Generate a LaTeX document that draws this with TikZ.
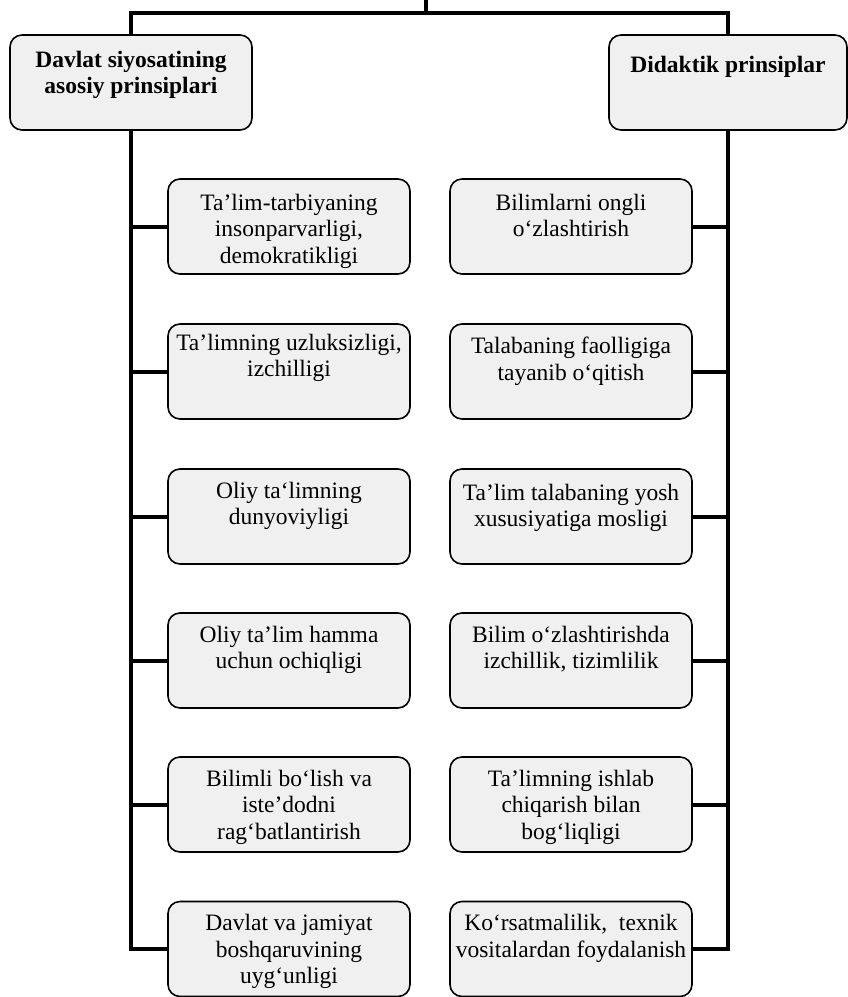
\documentclass[tikz,border=0pt]{standalone}
\usepackage{fontspec}
\setmainfont{Liberation Serif}
\newcommand{\bxt}[2][13pt]{\parbox[c][95pt][t]{238pt}{\centering\vspace*{#1}#2}}
\tikzset{
  conn/.style={line width=4pt},
  box/.style={draw, line width=1.6pt, rounded corners=12pt, fill=black!6,
    inner sep=0pt, minimum width=242pt, minimum height=95pt,
    font=\fontsize{23.5}{26.5}\selectfont},
  headbox/.style={box, font=\fontsize{23.5}{26}\selectfont\bfseries}
}
\begin{document}
\begin{tikzpicture}[x=1pt,y=-1pt]
\useasboundingbox (0,0) rectangle (848,997);
% headers
\node[headbox] (hl) at (131,82.5) {\bxt[16pt]{Davlat siyosatining\\ asosiy prinsiplari}};
\node[headbox, minimum width=238pt] (hr) at (728,82.5) {\bxt[21pt]{Didaktik prinsiplar}};
% left column
\node[box] (l1) at (289,226.5) {\bxt[15pt]{Ta’lim-tarbiyaning\\ insonparvarligi,\\ demokratikligi}};
\node[box] (l2) at (289,371.5) {\bxt[10pt]{Ta’limning uzluksizligi,\\ izchilligi}};
\node[box] (l3) at (289,516.5) {\bxt{Oliy ta‘limning\\ dunyoviyligi}};
\node[box] (l4) at (289,660.5) {\bxt{Oliy ta’lim hamma\\ uchun ochiqligi}};
\node[box] (l5) at (289,804.5) {\bxt{Bilimli bo‘lish va\\ iste’dodni\\ rag‘batlantirish}};
\node[box] (l6) at (289,949) {\bxt{Davlat va jamiyat\\ boshqaruvining\\ uyg‘unligi}};
% right column
\node[box] (r1) at (571,226.5) {\bxt[15pt]{Bilimlarni ongli\\ o‘zlashtirish}};
\node[box] (r2) at (571,371.5) {\bxt{Talabaning faolligiga\\ tayanib o‘qitish}};
\node[box] (r3) at (571,516.5) {\bxt[15pt]{Ta’lim talabaning yosh\\ xususiyatiga mosligi}};
\node[box] (r4) at (571,660.5) {\bxt{Bilim o‘zlashtirishda\\ izchillik, tizimlilik}};
\node[box] (r5) at (571,804.5) {\bxt{Ta’limning ishlab\\ chiqarish bilan\\ bog‘liqligi}};
\node[box] (r6) at (571,949) {\bxt{Ko‘rsatmalilik, \ texnik\\ vositalardan foydalanish}};
% connectors
\coordinate (top) at (426,13);
\coordinate (topend) at (426,0);
\draw[conn] (topend) -- (top);
\draw[conn] (hl.north) |- (top) -| (hr.north);
\draw[conn] (hl.south) |- (l6.west);
\draw[conn] (hr.south) |- (r6.east);
\foreach \i in {1,...,5}{
  \draw[conn] (l\i.west) -- (l\i.west -| hl.south);
  \draw[conn] (r\i.east) -- (r\i.east -| hr.south);
}
\end{tikzpicture}
\end{document}
